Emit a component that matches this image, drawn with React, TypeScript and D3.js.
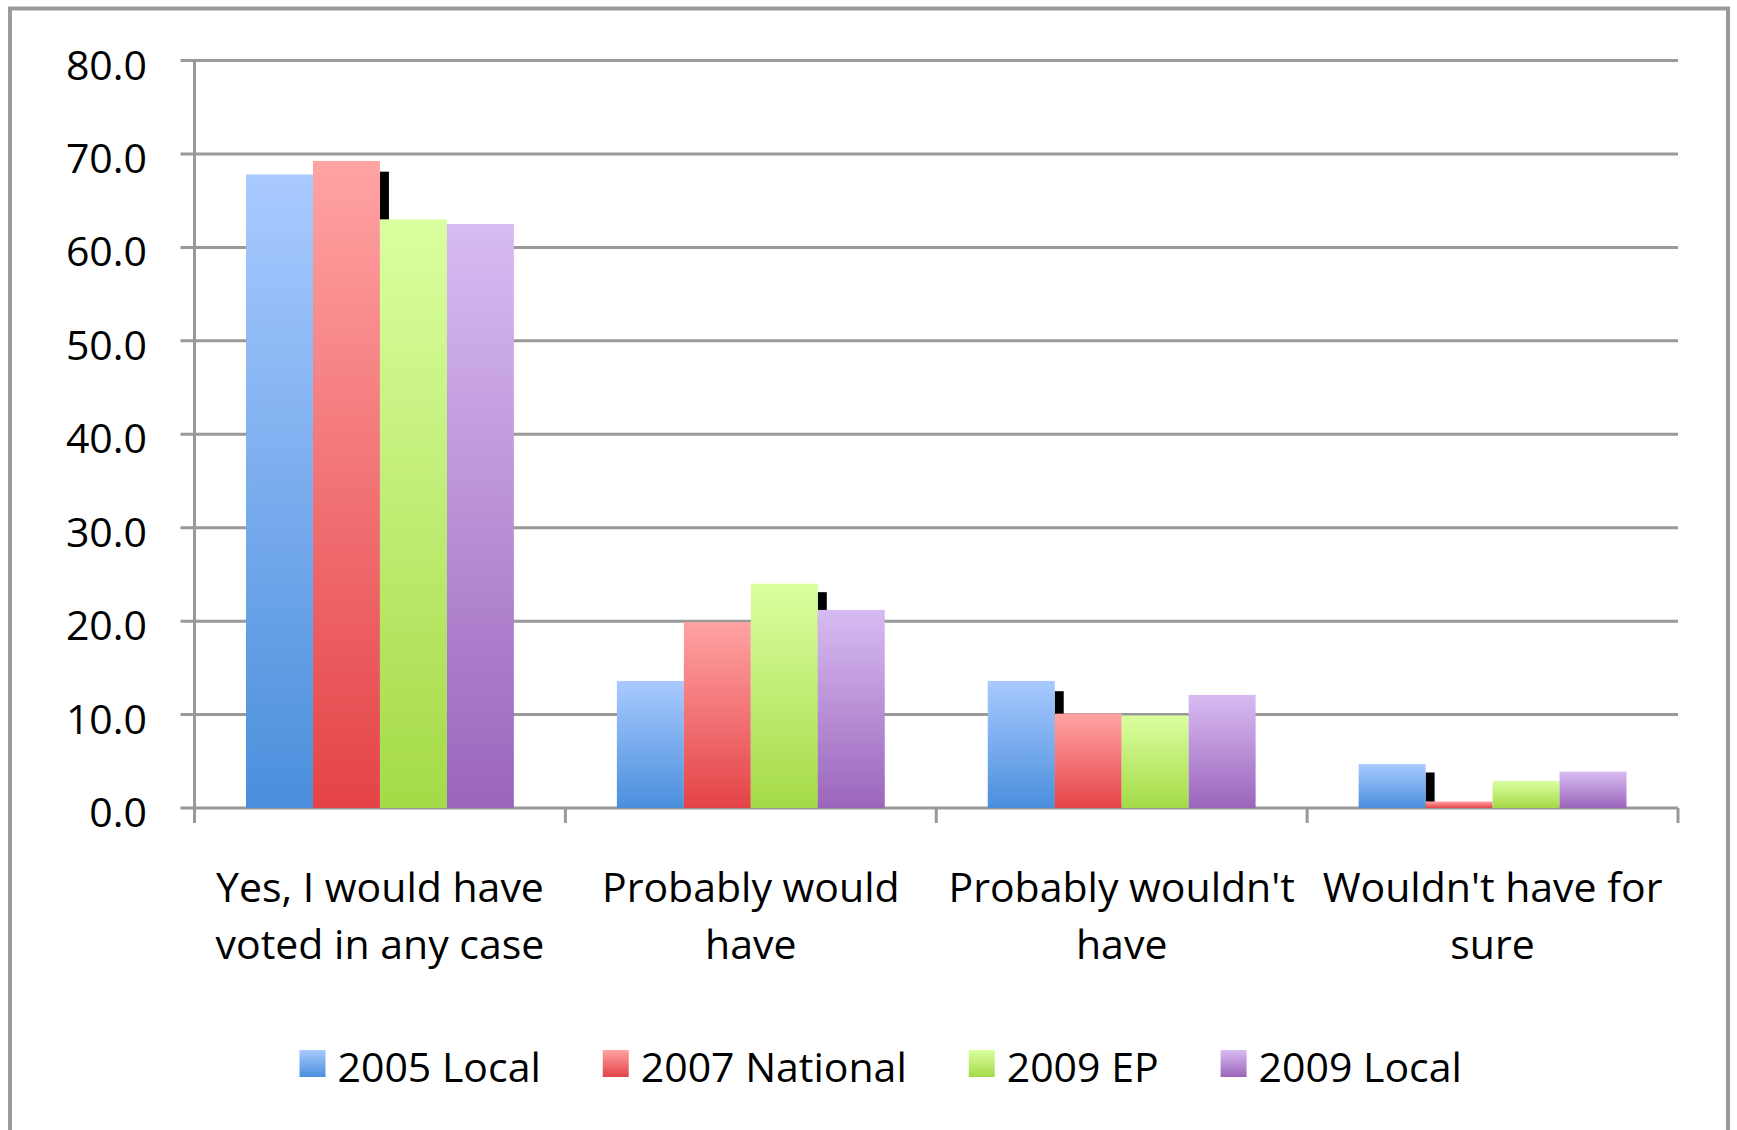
import React from "react";
import * as d3 from "d3";

const categories: string[][] = [
  ["Yes, I would have", "voted in any case"],
  ["Probably would", "have"],
  ["Probably wouldn't", "have"],
  ["Wouldn't have for", "sure"],
];
const seriesNames = ["2005 Local", "2007 National", "2009 EP", "2009 Local"];
const local2005 = [67.8, 13.6, 13.6, 4.7];
const national2007 = [69.25, 19.9, 10.1, 0.7];
const ep2009 = [63.0, 24.0, 9.9, 2.9];
const local2009 = [62.5, 21.2, 12.1, 3.9];
const yTicks = [0, 10, 20, 30, 40, 50, 60, 70, 80];
// dark rendering artefact seen beside one bar per group
const artifactAfter = [1, 2, 0, 0];
const artifactTop = [68.1, 23.1, 12.5, 3.8];

const seriesValues = [local2005, national2007, ep2009, local2009];
const gradTop = ["#a9caff", "#ffa3a3", "#daffa0", "#d8bbf2"];
const gradBottom = ["#4a8fdc", "#e44347", "#a4da47", "#9b65bb"];

const W = 1737;
const H = 1130;
const FONT = "'Open Sans', 'Noto Sans', sans-serif";
const GRID = "#999999";

function measure(text: string, size: number): number {
  const c = document.createElement("canvas").getContext("2d");
  if (!c) return text.length * size * 0.5;
  c.font = `${size}px 'Open Sans'`;
  return c.measureText(text).width;
}

export default function App() {
  const plotLeft = 194.5;
  const plotRight = 1678;
  const y = d3.scaleLinear().domain([0, 80]).range([808, 60.5]);
  const x0 = d3
    .scaleBand<number>()
    .domain(categories.map((_, i) => i))
    .range([plotLeft, plotRight]);
  const bw = x0.bandwidth();
  const x1 = d3
    .scaleBand<number>()
    .domain(seriesNames.map((_, i) => i))
    .range([51.5, bw - 51.5]);

  const legendFont = 41;
  const sw = 26;
  const gapSwText = 12;
  const itemGap = 62;
  const widths = seriesNames.map((s) => measure(s, legendFont));
  const legendStart = 299.5;
  const legendX: number[] = [];
  let acc = legendStart;
  widths.forEach((w) => {
    legendX.push(acc);
    acc += sw + gapSwText + w + itemGap;
  });

  return (
    <svg
      width={W}
      height={H}
      style={{ position: "absolute", left: 0, top: 0, background: "#fff" }}
      fontFamily={FONT}
    >
      <defs>
        {seriesNames.map((_, i) => (
          <linearGradient key={i} id={`g${i}`} x1="0" y1="0" x2="0" y2="1">
            <stop offset="0%" stopColor={gradTop[i]} />
            <stop offset="100%" stopColor={gradBottom[i]} />
          </linearGradient>
        ))}
      </defs>
      <rect x={0} y={0} width={W} height={H} fill="#fff" />
      <rect
        x={10}
        y={8.5}
        width={1718}
        height={1200}
        fill="none"
        stroke="#9a9a9a"
        strokeWidth={4}
      />
      {/* gridlines */}
      {yTicks.map((t) => (
        <line
          key={t}
          x1={plotLeft - 14}
          x2={plotRight}
          y1={y(t)}
          y2={y(t)}
          stroke={GRID}
          strokeWidth={3}
        />
      ))}
      {/* y axis */}
      <line x1={plotLeft} x2={plotLeft} y1={y(80)} y2={y(0) + 15} stroke={GRID} strokeWidth={3} />
      {/* category ticks */}
      {categories.map((_, i) => (
        <line
          key={i}
          x1={(x0(i) as number) + bw}
          x2={(x0(i) as number) + bw}
          y1={y(0)}
          y2={y(0) + 15}
          stroke={GRID}
          strokeWidth={3}
        />
      ))}
      {/* y tick labels */}
      {yTicks.map((t) => (
        <text key={t} x={147} y={y(t) + 19} textAnchor="end" fontSize={41} fill="#000">
          {t.toFixed(1)}
        </text>
      ))}
      {/* artefacts */}
      {categories.map((_, ci) => {
        const si = artifactAfter[ci];
        const bx = (x0(ci) as number) + (x1(si) as number) + x1.bandwidth();
        return (
          <rect
            key={ci}
            x={bx}
            y={y(artifactTop[ci])}
            width={9}
            height={y(0) - y(artifactTop[ci])}
            fill="#000"
          />
        );
      })}
      {/* bars */}
      {categories.map((_, ci) =>
        seriesValues.map((vals, si) => (
          <rect
            key={`${ci}-${si}`}
            x={(x0(ci) as number) + (x1(si) as number)}
            y={y(vals[ci])}
            width={x1.bandwidth()}
            height={y(0) - y(vals[ci])}
            fill={`url(#g${si})`}
          />
        ))
      )}
      {/* category labels */}
      {categories.map((lines, ci) =>
        lines.map((ln, li) => (
          <text
            key={`${ci}-${li}`}
            x={(x0(ci) as number) + bw / 2}
            y={902 + li * 56.5}
            textAnchor="middle"
            fontSize={41}
            fill="#000"
          >
            {ln}
          </text>
        ))
      )}
      {/* legend */}
      {seriesNames.map((s, i) => (
        <g key={s}>
          <rect x={legendX[i]} y={1050} width={sw} height={27} fill={`url(#g${i})`} />
          <text x={legendX[i] + sw + gapSwText} y={1082} fontSize={legendFont} fill="#000">
            {s}
          </text>
        </g>
      ))}
    </svg>
  );
}
